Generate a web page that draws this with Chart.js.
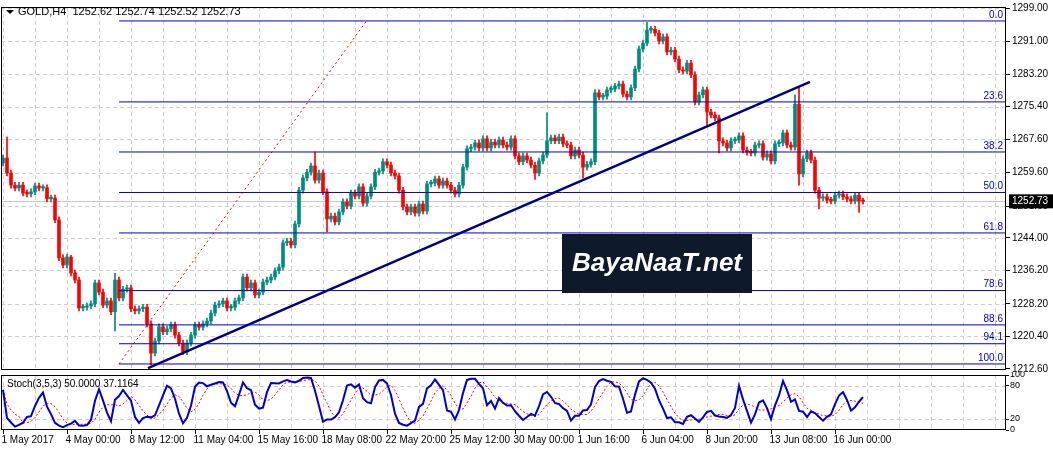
<!DOCTYPE html>
<html><head><meta charset="utf-8">
<script src="https://cdn.jsdelivr.net/npm/chart.js@4"></script>
<style>
html,body{margin:0;padding:0;background:#fff;overflow:hidden}
#w{position:relative;width:1053px;height:451px}
#c1{position:absolute;left:0;top:0}
#c2{position:absolute;left:0;top:372px}
</style></head><body>
<div id="w"><canvas id="c1" width="1053" height="372"></canvas><canvas id="c2" width="1053" height="79"></canvas></div>
<script>
const symbolTitle = "GOLD,H4  1252.62 1252.74 1252.52 1252.73";
const firstOpen = 1261.9;
const closes = [
1263.1,1259.5,1256.6,1255.9,1256.6,1254.7,1254.5,1255.0,1256.4,1255.9,
1256.0,1253.3,1253.5,1248.3,1239.2,1237.5,1239.4,1235.6,1233.9,1227.2,
1227.4,1227.7,1228.2,1233.2,1231.0,1227.9,1228.9,1226.3,1233.9,1229.6,
1231.7,1232.0,1227.0,1226.5,1227.0,1227.4,1223.4,1216.4,1219.3,1222.7,
1221.5,1222.2,1223.1,1220.7,1218.8,1216.7,1218.8,1220.7,1223.1,1222.6,
1223.4,1224.1,1226.0,1227.9,1228.2,1228.9,1227.2,1227.4,1228.9,1229.6,
1234.6,1232.0,1233.2,1230.3,1231.0,1233.4,1233.9,1234.6,1236.1,1237.0,
1242.8,1243.2,1242.3,1247.3,1255.4,1258.3,1259.7,1261.2,1257.8,1259.5,
1255.0,1248.5,1249.2,1247.8,1250.2,1252.6,1251.6,1254.7,1254.0,1256.2,
1252.3,1254.0,1256.2,1259.7,1260.0,1262.2,1261.4,1259.5,1258.8,1255.4,
1251.4,1250.2,1251.4,1249.9,1252.1,1250.4,1256.9,1257.1,1258.1,1256.6,
1257.6,1256.6,1255.4,1254.5,1256.6,1260.9,1265.3,1265.7,1266.7,1265.5,
1267.7,1265.5,1266.9,1266.2,1267.4,1266.2,1265.7,1267.7,1263.6,1262.2,
1263.6,1262.6,1261.4,1259.5,1262.4,1263.8,1267.2,1267.9,1267.2,1268.1,
1266.5,1266.2,1263.6,1265.0,1263.8,1260.9,1261.6,1262.2,1278.7,1277.7,
1277.9,1279.4,1279.6,1280.3,1280.8,1278.4,1277.7,1279.9,1284.4,1289.2,
1290.6,1293.7,1293.9,1293.0,1291.1,1292.1,1288.5,1288.9,1286.8,1284.2,
1283.9,1285.8,1283.0,1276.5,1278.2,1279.4,1274.1,1273.4,1272.7,1267.2,
1266.7,1265.5,1267.2,1267.4,1268.4,1265.0,1264.5,1264.3,1266.2,1266.5,
1263.3,1264.1,1262.4,1266.5,1266.7,1269.1,1266.2,1265.7,1276.0,1259.3,
1262.9,1264.3,1262.6,1255.4,1253.5,1253.8,1253.0,1252.8,1254.2,1254.5,
1253.8,1253.3,1252.8,1254.2,1252.8,1252.73];
const highOverrides = {1:1268.1,17:1239.8,28:1235.5,78:1264.5,136:1273.9,148:1279.5,161:1295.6,198:1278.2,199:1280.1};
const lowOverrides = {28:1221.7,37:1213.6,81:1245.4,133:1258.0,145:1258.3,176:1271.0,179:1264.3,199:1256.6,204:1250.9,214:1250.1};
const priceTicks = [1299.00,1291.00,1283.20,1275.40,1267.60,1259.60,1251.60,1244.00,1236.20,1228.20,1220.40,1212.60];
const fibLevels = [0.0,23.6,38.2,50.0,61.8,78.6,88.6,94.1,100.0];
const fibHigh = 1295.9, fibLow = 1213.8, fibStartBar = 29;
const trendLine = [{x:36.25,y:1212.8},{x:201.75,y:1281.3}];
const fibTrend = [{x:29,y:1213.8},{x:91,y:1296.1}];
const dateLabels = ["1 May 2017","4 May 00:00","8 May 12:00","11 May 04:00","15 May 16:00","18 May 08:00","22 May 20:00","25 May 12:00","30 May 00:00","1 Jun 16:00","6 Jun 04:00","8 Jun 20:00","13 Jun 08:00","16 Jun 00:00"];
const stochTicks = [0,20,80,100];
const lastPrice = 1252.73;
const stochTitle = "Stoch(3,5,3) 50.0000 37.1164";

const N = closes.length;
const opens = closes.map((c,i)=> i===0 ? firstOpen : closes[i-1]);
const highs = closes.map((c,i)=> highOverrides[i]!==undefined ? highOverrides[i] : Math.max(c,opens[i])+0.7);
const lows = closes.map((c,i)=> lowOverrides[i]!==undefined ? lowOverrides[i] : Math.min(c,opens[i])-0.7);
const BULL='#008b80', BEAR='#ff0000';
const col = closes.map((c,i)=> c>=opens[i]?BULL:BEAR);
const XMIN=-0.5, XMAX=250.75;
const FONT='"Liberation Sans", Arial, sans-serif';

const fibPrices = fibLevels.map(l=> fibHigh - (fibHigh-fibLow)*l/100);
const fibDatasets = fibPrices.map(p=>({type:'line',data:[{x:fibStartBar,y:p},{x:XMAX,y:p}],borderColor:'#0000cc',borderWidth:1,pointRadius:0,order:0}));

function gridPlugin(yVals){return {id:'dgrid',beforeDatasetsDraw(ch){const c=ch.ctx,a=ch.chartArea,x=ch.scales.x,y=ch.scales.y;c.save();c.strokeStyle='#cfcfcf';c.lineWidth=1;c.setLineDash([4,3]);
 for(let v=0;v<=XMAX;v+=8){const px=Math.round(x.getPixelForValue(v))+0.5;c.beginPath();c.moveTo(px,a.top);c.lineTo(px,a.bottom);c.stroke();}
 yVals.forEach(v=>{const py=Math.round(y.getPixelForValue(v))+0.5;c.beginPath();c.moveTo(a.left,py);c.lineTo(a.right,py);c.stroke();});
 c.restore();}};}

const frame = {id:'frame',afterDraw(ch){const a=ch.chartArea,c=ch.ctx;c.save();c.strokeStyle='#000';c.lineWidth=1;c.strokeRect(Math.round(a.left)+0.5,Math.round(a.top)+0.5,Math.round(a.right-a.left)-1,Math.round(a.bottom-a.top)-1);c.restore();}};

const mainDeco = {id:'mainDeco',
beforeDatasetsDraw(ch){const c=ch.ctx,y=ch.scales.y,a=ch.chartArea;c.save();c.strokeStyle='#c8c8c8';c.lineWidth=1;const py=Math.round(y.getPixelForValue(lastPrice))+0.5;c.beginPath();c.moveTo(a.left,py);c.lineTo(a.right,py);c.stroke();c.restore();},
afterDraw(ch){const c=ch.ctx,y=ch.scales.y,a=ch.chartArea;c.save();
 c.fillStyle='#0000cc';c.font='10px '+FONT;c.textAlign='right';c.textBaseline='bottom';
 fibLevels.forEach((l,i)=>{c.fillText(l.toFixed(1),a.right-3,y.getPixelForValue(fibPrices[i])-1);});
 c.fillStyle='#000';c.beginPath();c.moveTo(6,10);c.lineTo(14,10);c.lineTo(10,14);c.closePath();c.fill();
 c.textAlign='left';c.textBaseline='middle';c.font='11px '+FONT;c.fillText(symbolTitle,18,12);
 const py=y.getPixelForValue(lastPrice);c.fillStyle='#000';c.fillRect(a.right+3,py-7,44,14);c.fillStyle='#fff';c.font='10px '+FONT;c.fillText(lastPrice.toFixed(2),a.right+6,py);
 c.fillStyle='#0e1a2b';c.fillRect(562,234,190,59);c.fillStyle='#fff';c.font='bold italic 26px '+FONT;c.textAlign='center';c.fillText('BayaNaaT.net',657,264);
 c.restore();}};

function noPad(s){s.paddingTop=0;s.paddingBottom=0;}

new Chart(document.getElementById('c1'),{
 type:'bar',
 data:{datasets:[
  ...fibDatasets,
  {type:'line',data:fibTrend,borderColor:'#ff0000',borderWidth:1,borderDash:[2,3],pointRadius:0,order:0},
  {type:'line',data:trendLine,borderColor:'#000080',borderWidth:2.5,pointRadius:0,order:0},
  {data:closes.map((c,i)=>({x:i,y:[lows[i],highs[i]]})),backgroundColor:col,barThickness:1,grouped:false,order:2},
  {data:closes.map((c,i)=>({x:i,y:[Math.min(opens[i],c),Math.max(opens[i],c)+ (Math.abs(opens[i]-c)<0.25?0.25:0)]})),backgroundColor:col,barThickness:3,grouped:false,order:1}
 ]},
 options:{responsive:false,animation:false,events:[],
  layout:{padding:{left:1,top:7,right:0,bottom:2}},
  plugins:{legend:{display:false},tooltip:{enabled:false}},
  scales:{
   x:{type:'linear',display:false,offset:false,min:XMIN,max:XMAX},
   y:{position:'right',min:1212.36,max:1299.24,border:{display:false},
      grid:{drawOnChartArea:false,tickColor:'#000',tickLength:4},
      ticks:{color:'#000',font:{family:FONT,size:10},padding:2,callback:v=>Number(v).toFixed(2)},
      afterBuildTicks(s){s.ticks=priceTicks.map(v=>({value:v}));},afterFit(s){s.width=47;noPad(s);}}
  }},
 plugins:[gridPlugin(priceTicks),frame,mainDeco]
});

// Stochastic (3,5,3) computed from candles
const K=3,SL=3,D=5;
const num=[],den=[],kLine=[],dLine=[];
for(let i=0;i<N;i++){let ll=Infinity,hh=-Infinity;for(let j=Math.max(0,i-K+1);j<=i;j++){ll=Math.min(ll,lows[j]);hh=Math.max(hh,highs[j]);}
 num.push(closes[i]-ll);den.push(hh-ll);
 let sn=0,sd=0;for(let j=Math.max(0,i-SL+1);j<=i;j++){sn+=num[j];sd+=den[j];}
 kLine.push(sd>0?100*sn/sd:50);
 let s=0,n=0;for(let j=Math.max(0,i-D+1);j<=i;j++){s+=kLine[j];n++;}dLine.push(s/n);}

const stochDeco={id:'stochDeco',afterDraw(ch){const c=ch.ctx,x=ch.scales.x,a=ch.chartArea;c.save();
 c.fillStyle='#000';c.font='10px '+FONT;c.textBaseline='middle';c.textAlign='left';c.fillText(stochTitle,7,a.top+9);
 c.strokeStyle='#000';c.lineWidth=1;c.textBaseline='top';
 dateLabels.forEach((t,i)=>{const px=Math.round(x.getPixelForValue(i*16))+0.5;c.beginPath();c.moveTo(px,a.bottom);c.lineTo(px,a.bottom+4);c.stroke();c.fillText(t,px-2,a.bottom+5);});
 c.restore();}};

new Chart(document.getElementById('c2'),{
 type:'line',
 data:{datasets:[
  {data:kLine.map((v,i)=>({x:i,y:v})),borderColor:'#0000cc',borderWidth:2,pointRadius:0,order:1},
  {data:dLine.map((v,i)=>({x:i,y:v})),borderColor:'#ff0000',borderWidth:1,borderDash:[2,2],pointRadius:0,order:2}
 ]},
 options:{responsive:false,animation:false,events:[],
  layout:{padding:{left:1,top:3,right:0,bottom:21}},
  plugins:{legend:{display:false},tooltip:{enabled:false}},
  scales:{
   x:{type:'linear',display:false,offset:false,min:XMIN,max:XMAX},
   y:{position:'right',min:0,max:100,border:{display:false},
      grid:{drawOnChartArea:false,tickColor:'#000',tickLength:3},
      ticks:{color:'#000',font:{family:FONT,size:9},padding:1,autoSkip:false},
      afterBuildTicks(s){s.ticks=stochTicks.map(v=>({value:v}));},afterFit(s){s.width=47;noPad(s);}}
  }},
 plugins:[gridPlugin([20,80]),frame,stochDeco]
});
</script></body></html>
